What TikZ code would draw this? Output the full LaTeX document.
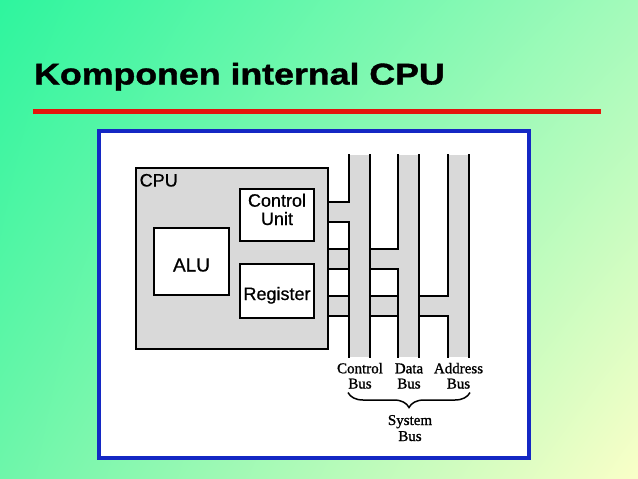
\documentclass[tikz,border=0pt]{standalone}
\usepackage{fontspec}
\setmainfont{Liberation Sans}
\newfontfamily\busfont[FakeBold=1.2]{Liberation Serif}
\newfontfamily\unitfont[FakeBold=0.7]{Liberation Sans}
\newfontfamily\titlefont[FakeBold=1.2]{Liberation Sans Bold}
\usetikzlibrary{decorations.pathreplacing,shadings}
\definecolor{bgUL}{HTML}{2EF59E}
\definecolor{bgUR}{HTML}{A4FABB}
\definecolor{bgLL}{HTML}{6EF6AA}
\definecolor{bgLR}{HTML}{FAFFC8}
\definecolor{titlered}{HTML}{E4140C}
\definecolor{panelblue}{HTML}{1428C4}
\definecolor{busgray}{HTML}{D9D9D9}
\tikzset{
  boxline/.style={draw=black, line width=2.2pt},
  cpubox/.style={boxline, fill=busgray, inner sep=0pt, outer sep=0pt, anchor=north west},
  unitbox/.style={boxline, fill=white, inner sep=0pt, outer sep=0pt, anchor=north west},
  unitlbl/.style={anchor=base, inner sep=0pt, font=\unitfont\fontsize{18}{20}\selectfont},
  buslbl/.style={anchor=base, inner sep=0pt, font=\busfont\fontsize{15}{16}\selectfont},
  busline/.style={line width=2pt, line cap=rect},
}
\begin{document}
\begin{tikzpicture}[x=1pt,y=-1pt]
\useasboundingbox (0,0) rectangle (638,479);
\shade[upper left=bgUL, upper right=bgUR, lower left=bgLL, lower right=bgLR] (0,0) rectangle (638,479);

% title
\node[anchor=base west, inner sep=0pt, font=\titlefont\fontsize{30}{36}\selectfont] (title) at (34,84.5) {\scalebox{1.19}[1]{Komponen internal CPU}};
\draw[line width=5pt, titlered] (33,111.5) -- (601,111.5);

% panel
\draw[line width=3.3pt, draw=panelblue, fill=white] (99,131) rectangle (529,458);

% buses fill
\fill[busgray] (349,155) rectangle (370,357);
\fill[busgray] (398,155) rectangle (419,357);
\fill[busgray] (448,155) rectangle (469,357);
\fill[busgray] (328,202) rectangle (349,222);
\fill[busgray] (328,249) rectangle (398,269);
\fill[busgray] (328,296) rectangle (448,316);

% CPU
\node[cpubox, minimum width=192pt, minimum height=181pt] (cpu) at (136,168) {};
\node[anchor=base west, inner sep=0pt, font=\unitfont\fontsize{18}{20}\selectfont] (cpulbl) at (139.5,186.5) {CPU};
\node[unitbox, minimum width=74pt, minimum height=52pt] (cu) at (240,189) {};
\node[unitlbl] (cut1) at (277,206.7) {Control};
\node[unitlbl] (cut2) at (277,225) {Unit};
\node[unitbox, minimum width=75pt, minimum height=67pt] (alu) at (154,228) {};
\node[unitlbl, font=\unitfont\fontsize{19}{20}\selectfont] (alut) at (191.5,271.5) {ALU};
\node[unitbox, minimum width=74pt, minimum height=54pt] (reg) at (240,264) {};
\node[unitlbl] (regt) at (277,300) {Register};

% bus lines
\begin{scope}[busline]
\draw (349,155) -- (349,202) -- (328,202);
\draw (328,222) -- (349,222) -- (349,357);
\draw (370,155) -- (370,357);
\draw (398,155) -- (398,249) -- (370,249);
\draw (328,249) -- (349,249);
\draw (328,269) -- (349,269);
\draw (370,269) -- (398,269) -- (398,357);
\draw (419,155) -- (419,357);
\draw (448,155) -- (448,296) -- (419,296);
\draw (370,296) -- (398,296);
\draw (328,296) -- (349,296);
\draw (328,316) -- (349,316);
\draw (370,316) -- (398,316);
\draw (419,316) -- (448,316) -- (448,357);
\draw (469,155) -- (469,357);
\end{scope}

% bus labels
\node[buslbl] (cb1) at (360,373.3) {Control};
\node[buslbl] (cb2) at (360,388.5) {Bus};
\node[buslbl] (db1) at (409,373.3) {Data};
\node[buslbl] (db2) at (409,388.5) {Bus};
\node[buslbl] (ab1) at (458.5,373.3) {Address};
\node[buslbl] (ab2) at (458.5,388.5) {Bus};
\coordinate (brL) at (348,392.5);
\coordinate (brR) at (470,392.5);
\draw[line width=1.5pt, decorate, decoration={brace, mirror, amplitude=15pt}] (brL) -- (brR);
\node[buslbl] (sb1) at (410,425) {System};
\node[buslbl] (sb2) at (410,441) {Bus};
\end{tikzpicture}
\end{document}
